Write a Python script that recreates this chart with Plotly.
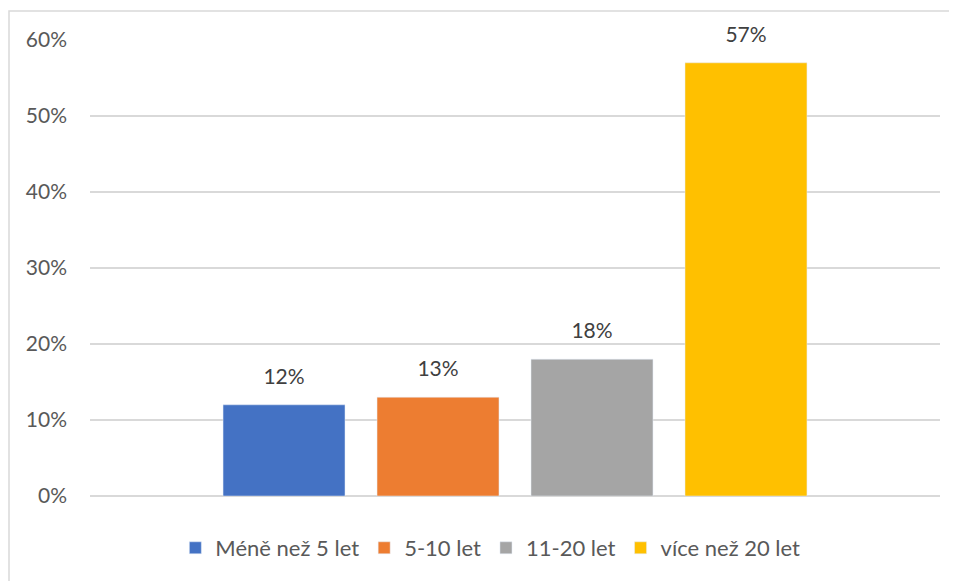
import plotly.graph_objects as go

# data
categories = ["Méně než 5 let", "5-10 let", "11-20 let", "více než 20 let"]
values = [0.12, 0.13, 0.18, 0.57]
labels = ["12%", "13%", "18%", "57%"]
colors = ["#4472C4", "#ED7D31", "#A5A5A5", "#FFC000"]

fig = go.Figure()
for name, v, c in zip(categories, values, colors):
    fig.add_trace(go.Bar(x=[name], y=[v], name=name, marker_color=c, width=0.792))

# data labels above bars (invisible markers only push the text up)
fig.add_trace(go.Scatter(
    x=categories, y=values, text=labels, mode="markers+text",
    textposition="top center", cliponaxis=False, showlegend=False,
    marker=dict(size=24, opacity=0), hoverinfo="skip",
    textfont=dict(size=21, color="#404040"),
))

# page body has an 8px margin, so the figure is shrunk by that much
fig.update_layout(
    width=949, height=573,
    margin=dict(l=82, r=17, t=32, b=85),
    paper_bgcolor="white", plot_bgcolor="white",
    font=dict(family="Lato, Carlito, sans-serif", size=21, color="#595959"),
    barmode="overlay",
    showlegend=True,
    legend=dict(orientation="h", x=0.471, xanchor="center", y=-0.114, yanchor="middle",
                font=dict(size=22, color="#595959"), itemclick=False),
    xaxis=dict(type="category", showticklabels=False, showgrid=False, zeroline=False,
               range=[-1.26, 4.26]),
    yaxis=dict(range=[0, 0.6], dtick=0.1, tickformat=".0%", showgrid=True,
               gridcolor="#D9D9D9", gridwidth=1.5, zeroline=True, zerolinecolor="#D9D9D9",
               zerolinewidth=1.5, ticks="", ticklabelstandoff=22),
    shapes=[dict(type="rect", xref="paper", yref="paper",
                 x0=-0.0953, x1=1.2, y0=-0.5, y1=1.0636,
                 line=dict(color="#D9D9D9", width=1.5))],
)

fig.write_html("out.html")
